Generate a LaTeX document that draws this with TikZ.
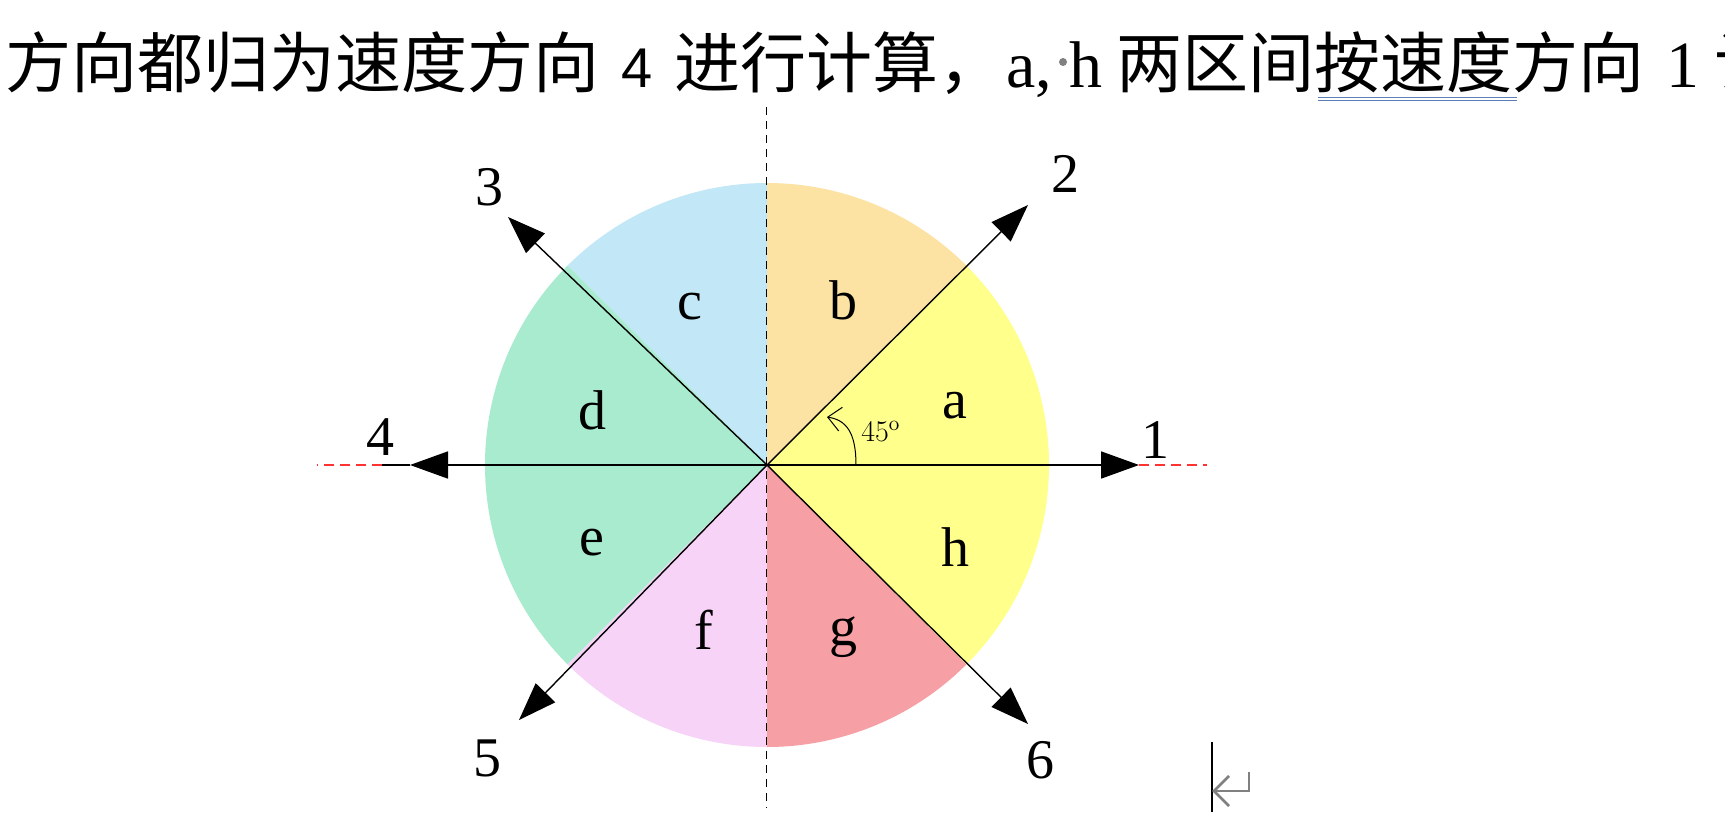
\documentclass[tikz,border=0pt]{standalone}
\usepackage{fontspec}
\setmainfont{Liberation Serif}
\newfontfamily\cjk{Noto Sans CJK SC}
\newfontfamily\lsans{Liberation Sans}
\newfontfamily\lmr{Latin Modern Roman}
\usetikzlibrary{arrows.meta}
\definecolor{secA}{HTML}{FFFF8C}
\definecolor{secB}{HTML}{FCE3A4}
\definecolor{secC}{HTML}{C2E7F7}
\definecolor{secD}{HTML}{A9EBCE}
\definecolor{secF}{HTML}{F7D3F8}
\definecolor{secG}{HTML}{F6A0A5}
\definecolor{ulblue}{HTML}{5B7FB5}
\tikzset{
  arr/.style={line width=0.7pt,-{Triangle[length=19pt,width=13.5pt]}},
  dirlab/.style={anchor=base,inner sep=0pt,font=\fontsize{28pt}{32pt}\selectfont},
  seclab/.style={anchor=base,inner sep=0pt,font=\fontsize{28pt}{32pt}\selectfont},
  cjktext/.style={anchor=base west,inner sep=0pt,font=\fontsize{33pt}{40pt}\cjk},
  lattext/.style={anchor=base west,inner sep=0pt,font=\fontsize{33pt}{40pt}\selectfont},
  reddash/.style={red!80,line width=0.6pt,dash pattern=on 5pt off 3pt},
  axisdash/.style={black,line width=0.5pt,dash pattern=on 4pt off 3pt},
  retsym/.style={gray,line width=1.3pt}
}
\def\R{141pt}
\begin{document}
\begin{tikzpicture}[x=0.5pt,y=-0.5pt]
\useasboundingbox (0,0) rectangle (1725,830);
\fill[white] (0,0) rectangle (1725,830);
\coordinate (O) at (767,465);
% sectors
\fill[secA] (O) -- ++(0:\R) arc[start angle=0,end angle=45,radius=\R] -- cycle;
\fill[secB] (O) -- ++(45:\R) arc[start angle=45,end angle=90,radius=\R] -- cycle;
\fill[secC] (O) -- ++(90:\R) arc[start angle=90,end angle=135,radius=\R] -- cycle;
\fill[secD] (O) -- ++(135:\R) arc[start angle=135,end angle=225,radius=\R] -- cycle;
\fill[secF] (O) -- ++(225:\R) arc[start angle=225,end angle=270,radius=\R] -- cycle;
\fill[secG] (O) -- ++(270:\R) arc[start angle=270,end angle=315,radius=\R] -- cycle;
\fill[secA] (O) -- ++(315:\R) arc[start angle=315,end angle=360,radius=\R] -- cycle;
% axes
\coordinate (vt) at (766,107);
\coordinate (vb) at (766,808);
\draw[axisdash] (vt) -- (vb);
\coordinate (l4a) at (382,465);
\coordinate (l4b) at (317,465);
\coordinate (r1b) at (1207,465);
\coordinate (t1) at (1139,465);
\coordinate (t4) at (410,465);
\coordinate (t2) at (1028,205);
\coordinate (t3) at (508,217);
\coordinate (t5) at (519,720);
\coordinate (t6) at (1028,724);
\draw[reddash] (l4a) -- (l4b);
\draw[reddash] (t1) -- (r1b);
\draw[line width=0.8pt] (t4) -- (l4a);
\draw[arr,line width=0.9pt] (O) -- (t1);
\draw[arr,line width=0.9pt] (O) -- (t4);
\draw[arr] (O) -- (t2);
\draw[arr] (O) -- (t3);
\draw[arr] (O) -- (t5);
\draw[arr] (O) -- (t6);
% 45 degree arc
\coordinate (ang0) at (856,465);
\coordinate (ang1) at (827,417);
\draw[line width=0.5pt,-{Straight Barb[length=6.5pt,width=12pt]}] (ang0) .. controls (856,432) and (846,420) .. (ang1);
\node[anchor=base west,inner sep=0pt,font=\fontsize{15pt}{18pt}\lmr] (ang) at (861,441) {45\textsuperscript{o}};
% direction labels
\node[dirlab] (n1) at (1155,458) {1};
\node[dirlab] (n2) at (1065,192) {2};
\node[dirlab] (n3) at (489,205) {3};
\node[dirlab] (n4) at (380,455) {4};
\node[dirlab] (n5) at (487,776) {5};
\node[dirlab] (n6) at (1040,778) {6};
% sector labels
\node[seclab] (sa) at (955,418) {a};
\node[seclab] (sb) at (843,319) {b};
\node[seclab] (sc) at (690,319) {c};
\node[seclab] (sd) at (592,429) {d};
\node[seclab] (se) at (592,555) {e};
\node[seclab] (sf) at (704,649) {f};
\node[seclab] (sg) at (843,645) {g};
\node[seclab] (sh) at (955,566) {h};
% top text
\node[cjktext] (tx0) at (-67,87) {他};
\node[cjktext] (tx1) at (5,87) {方向都归为速度方向};
\node[anchor=base west,inner sep=0pt,font=\fontsize{28pt}{32pt}\lsans] (tx2) at (621,87) {4};
\node[cjktext] (tx3) at (674,87) {进行计算，};
\node[lattext] (tx4) at (1006,87) {a,};
\node[lattext] (tx5) at (1069,87) {h};
\node[cjktext] (tx6) at (1116,87) {两区间按速度方向};
\node[lattext] (tx7) at (1666,87) {1};
\node[cjktext] (tx8) at (1714,87) {计};
\fill[gray] (1063,62) circle[radius=2pt];
\coordinate (u1a) at (1318,97);
\coordinate (u1b) at (1517,97);
\coordinate (u2a) at (1318,100.5);
\coordinate (u2b) at (1517,100.5);
\draw[ulblue,line width=0.5pt] (u1a) -- (u1b);
\draw[ulblue,line width=0.5pt] (u2a) -- (u2b);
% cursor and return mark
\coordinate (cur1) at (1212,742);
\coordinate (cur2) at (1212,812);
\draw[black,line width=0.6pt] (cur1) -- (cur2);
\coordinate (ret1) at (1249,772);
\coordinate (ret2) at (1249,791);
\coordinate (ret3) at (1214,791);
\coordinate (ret4) at (1229,776);
\coordinate (ret5) at (1229,806);
\draw[retsym,line join=miter] (ret1) -- (ret2) -- (ret3);
\draw[retsym] (ret4) -- (ret3) -- (ret5);
\end{tikzpicture}
\end{document}
